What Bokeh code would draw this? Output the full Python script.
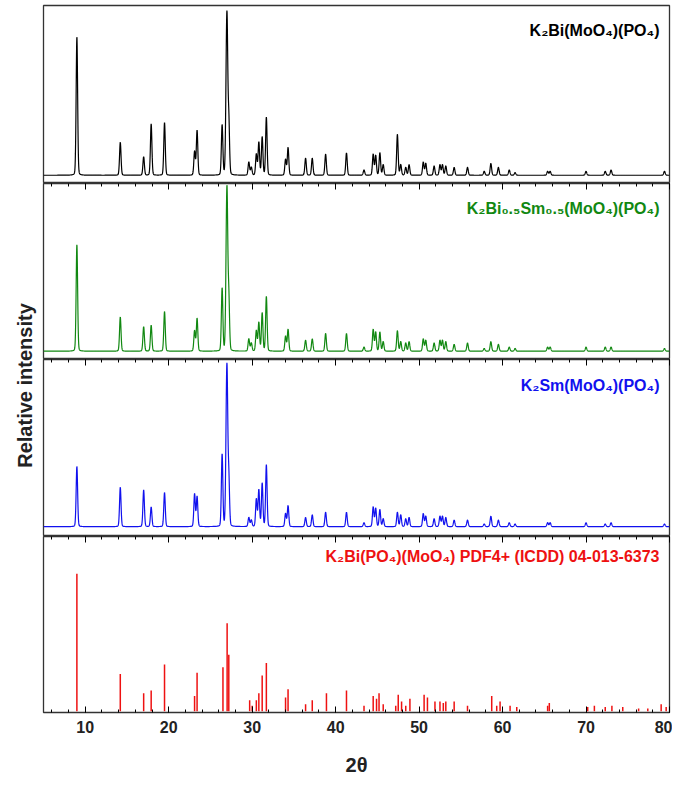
import numpy as np
from bokeh.plotting import figure
from bokeh.layouts import column, row
from bokeh.models import Range1d, LinearAxis, Label, FixedTicker
from bokeh.embed import file_html
from bokeh.resources import INLINE

# peak positions (2theta) and relative heights
pos = [9.0, 14.2, 17.0, 17.9, 19.5, 23.1, 23.4, 26.4, 26.9, 27.0, 27.2, 29.6, 29.9,
       30.5, 30.8, 31.2, 31.7, 34.0, 34.3, 36.4, 37.2, 38.8, 41.3, 43.4, 44.5, 44.8,
       45.3, 45.7, 47.4, 47.8, 48.4, 48.8, 50.5, 50.8, 51.8, 52.5, 52.8, 53.2, 54.2,
       55.8, 57.8, 58.6, 59.5, 60.8, 61.5, 65.4, 65.7, 70.0, 72.3, 73.0, 79.4]
h_bi = [1.05, 0.25, 0.14, 0.39, 0.40, 0.18, 0.34, 0.38, 0.50, 0.92, 0.40, 0.10, 0.06,
        0.16, 0.25, 0.29, 0.44, 0.12, 0.21, 0.13, 0.13, 0.16, 0.17, 0.04, 0.16, 0.15,
        0.17, 0.08, 0.31, 0.08, 0.06, 0.08, 0.10, 0.09, 0.07, 0.08, 0.08, 0.07, 0.06,
        0.06, 0.03, 0.09, 0.06, 0.04, 0.02, 0.03, 0.03, 0.03, 0.03, 0.04, 0.03]
h_bism = [0.78, 0.25, 0.18, 0.19, 0.29, 0.15, 0.24, 0.46, 0.45, 0.92, 0.38, 0.09, 0.06,
          0.15, 0.21, 0.28, 0.40, 0.11, 0.16, 0.08, 0.09, 0.13, 0.13, 0.03, 0.16, 0.14,
          0.14, 0.07, 0.15, 0.07, 0.06, 0.07, 0.09, 0.08, 0.06, 0.08, 0.08, 0.07, 0.05,
          0.06, 0.02, 0.07, 0.05, 0.03, 0.02, 0.03, 0.03, 0.03, 0.03, 0.03, 0.02]
h_sm = [0.46, 0.30, 0.28, 0.15, 0.26, 0.25, 0.23, 0.55, 0.50, 0.92, 0.36, 0.07, 0.05,
        0.21, 0.28, 0.33, 0.47, 0.10, 0.16, 0.07, 0.09, 0.11, 0.11, 0.03, 0.15, 0.14,
        0.13, 0.06, 0.11, 0.09, 0.06, 0.07, 0.10, 0.08, 0.06, 0.08, 0.08, 0.07, 0.05,
        0.05, 0.02, 0.08, 0.05, 0.03, 0.02, 0.03, 0.03, 0.03, 0.02, 0.03, 0.02]

# reference sticks (PDF 04-013-6373)
ref_pos = [9.0, 14.2, 17.0, 17.9, 19.5, 23.1, 23.4, 26.5, 27.0, 27.2, 29.7, 30.0, 30.5,
           30.8, 31.2, 31.7, 34.0, 34.3, 36.4, 37.2, 38.9, 41.3, 43.4, 44.5, 44.9, 45.2,
           45.7, 47.2, 47.5, 47.9, 48.4, 48.9, 50.6, 51.0, 51.9, 52.5, 52.9, 53.2, 54.2,
           55.8, 58.7, 59.3, 59.7, 60.9, 61.7, 65.4, 65.6, 70.2, 71.0, 72.3, 73.1, 74.4,
           76.3, 77.4, 79.0, 79.6]
ref_h = [1.00, 0.27, 0.13, 0.15, 0.34, 0.11, 0.28, 0.32, 0.64, 0.41, 0.08, 0.04, 0.08,
         0.13, 0.26, 0.35, 0.10, 0.16, 0.05, 0.08, 0.13, 0.15, 0.04, 0.11, 0.09, 0.13,
         0.05, 0.04, 0.12, 0.07, 0.04, 0.09, 0.12, 0.10, 0.07, 0.07, 0.06, 0.07, 0.07,
         0.04, 0.11, 0.04, 0.07, 0.04, 0.03, 0.04, 0.06, 0.03, 0.04, 0.03, 0.04, 0.03,
         0.02, 0.02, 0.05, 0.03]

x = np.linspace(5, 80, 4001)

def profile(heights, s=0.09):
    # pseudo-Voigt peaks, mostly Gaussian so that tails stay small
    y = np.zeros_like(x)
    for p0, h in zip(pos, heights):
        d = (x - p0) / s
        y += h * (0.85 * np.exp(-0.5 * d ** 2) + 0.15 / (1 + d ** 2))
    return y / y.max()

FONT = "Liberation Sans"
W = 630
TICKS = list(range(10, 81, 10))

def panel(h, yr, top_ticks=True, bottom=False):
    p = figure(width=W, height=h, x_range=Range1d(5, 80), y_range=Range1d(*yr),
               output_backend="svg", toolbar_location=None, x_axis_location=None,
               y_axis_location=None, min_border_left=1, min_border_right=3,
               min_border_top=0, min_border_bottom=0)
    p.grid.visible = False
    p.outline_line_color = "#333333"
    p.outline_line_width = 1.3
    axes = []
    if top_ticks:
        axes.append("above")
    if bottom:
        axes.append("below")
    for loc in axes:
        ax = LinearAxis(ticker=FixedTicker(ticks=TICKS,
                                           minor_ticks=list(range(6, 81, 2))))
        ax.major_tick_in = 6
        ax.major_tick_out = 0
        ax.minor_tick_in = 3
        ax.minor_tick_out = 0
        ax.axis_line_color = None
        if loc == "above":
            ax.major_label_overrides = {t: "" for t in TICKS}
            ax.major_label_standoff = 0
        else:
            ax.major_label_text_font = FONT
            ax.major_label_text_font_style = "bold"
            ax.major_label_text_font_size = "16px"
            ax.major_label_text_color = "#222222"
            ax.major_label_standoff = 8
            ax.axis_label = "2θ"
            ax.axis_label_text_font = FONT
            ax.axis_label_text_font_style = "bold"
            ax.axis_label_text_font_size = "20px"
            ax.axis_label_standoff = 18
            ax.axis_label_text_color = "#222222"
        p.add_layout(ax, loc)
    return p

def tag(p, text, color, y):
    p.add_layout(Label(x=W - 14, y=y, x_units="screen", y_units="screen", text=text,
                       text_align="right", text_font=FONT, text_font_style="bold",
                       text_font_size="16px", text_color=color))

p1 = panel(183, (-0.05, 1.03), top_ticks=False)
p1.min_border_top = 5
p1.line(x, profile(h_bi), color="black", line_width=1.2)
tag(p1, "K₂Bi(MoO₄)(PO₄)", "black", 145)

p2 = panel(176, (-0.05, 1.01))
p2.line(x, profile(h_bism), color="#118811", line_width=1.2)
tag(p2, "K₂Bi₀.₅Sm₀.₅(MoO₄)(PO₄)", "#118811", 143)

p3 = panel(177, (-0.06, 1.02))
p3.line(x, profile(h_sm), color="#1111ee", line_width=1.2)
tag(p3, "K₂Sm(MoO₄)(PO₄)", "#1111ee", 143)

p4 = panel(242, (-0.01, 1.27), bottom=True)
p4.segment(x0=ref_pos, y0=0, x1=ref_pos, y1=ref_h, color="#ee1111", line_width=1.5)
tag(p4, "K₂Bi(PO₄)(MoO₄) PDF4+ (ICDD) 04-013-6373", "#ee1111", 148)

lab = figure(width=42, height=778, x_range=Range1d(0, 1), y_range=Range1d(0, 778),
             output_backend="svg", toolbar_location=None, x_axis_location=None,
             y_axis_location=None, min_border=0, outline_line_color=None)
lab.grid.visible = False
lab.add_layout(Label(x=24, y=778 - 385, x_units="screen", y_units="screen",
                     text="Relative intensity", angle=np.pi / 2, text_align="center",
                     text_baseline="middle", text_font=FONT, text_font_style="bold",
                     text_font_size="20px", text_color="#222222"))

layout = row(lab, column(p1, p2, p3, p4, spacing=0), spacing=0)
open("out.html", "w").write(file_html(layout, INLINE))
